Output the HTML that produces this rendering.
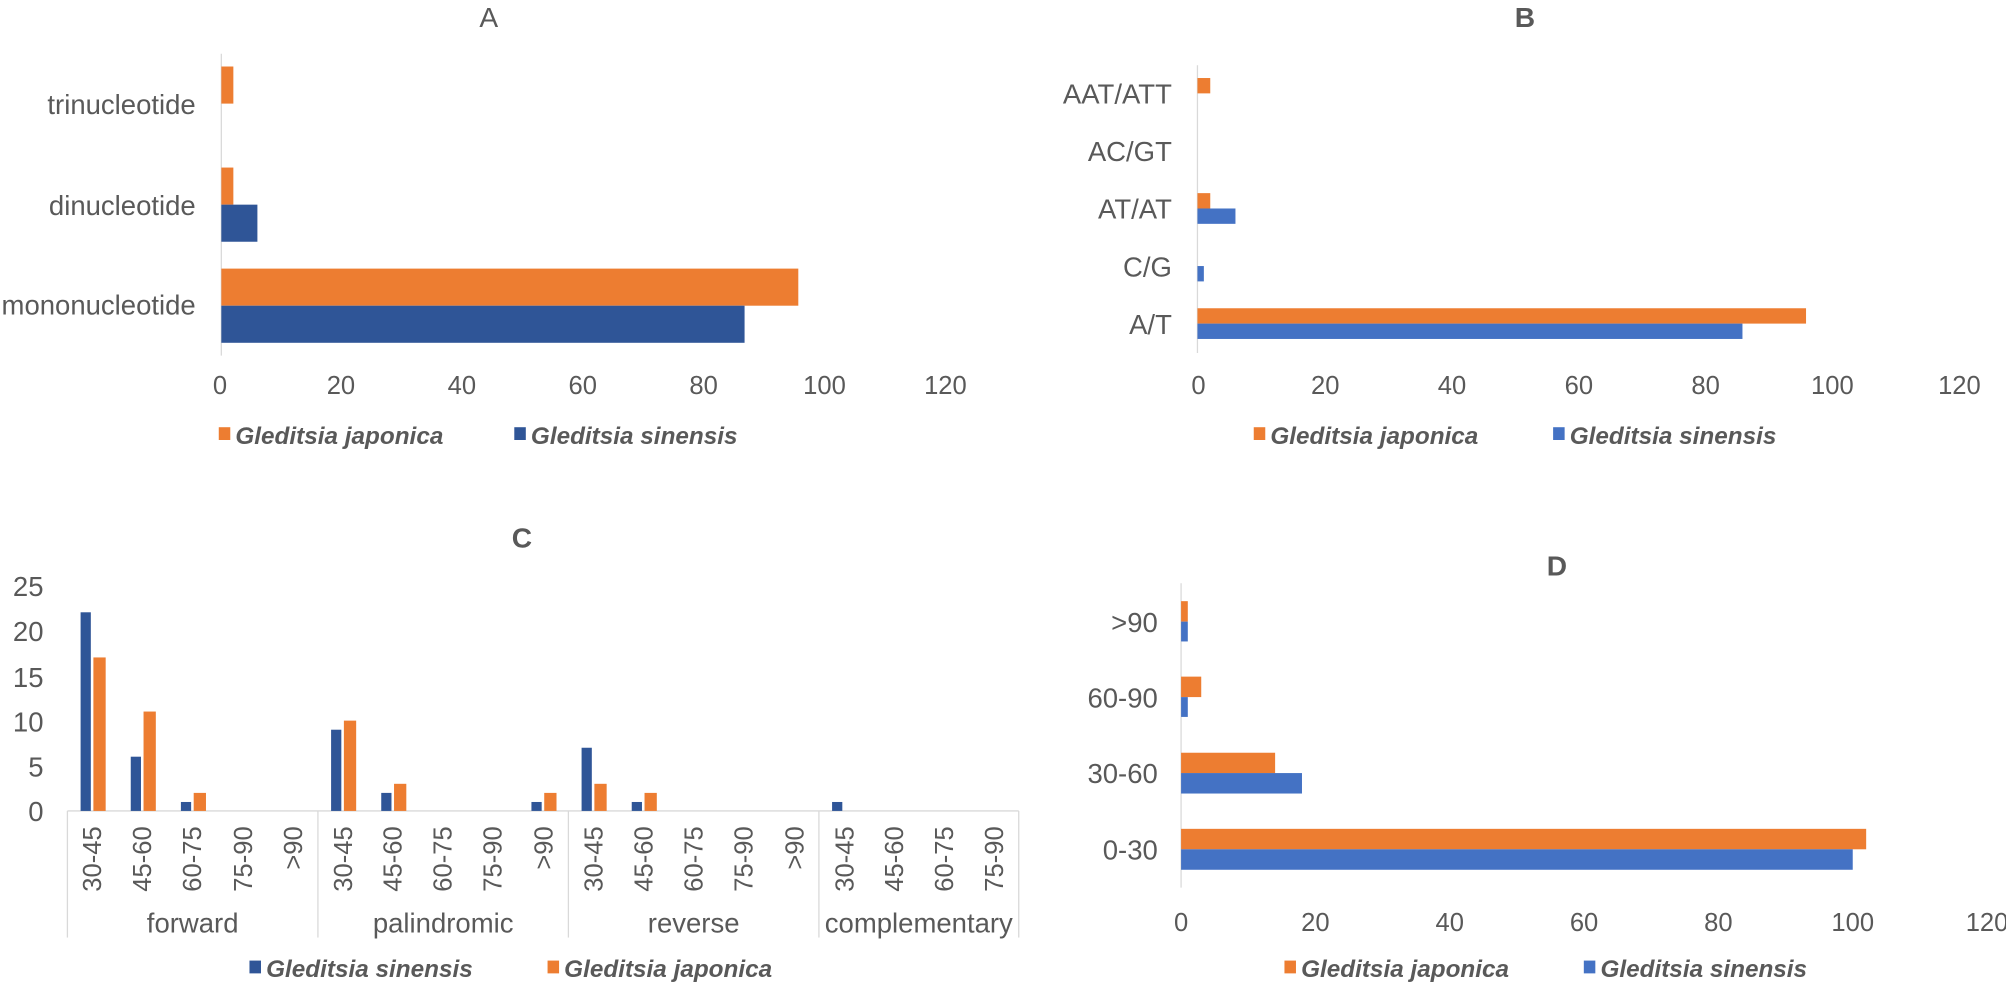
<!DOCTYPE html>
<html><head><meta charset="utf-8"><style>
html,body{margin:0;padding:0;background:#fff;}
svg{display:block}
text{font-family:"Liberation Sans Narrow","Liberation Sans",sans-serif;fill:#595959;}
.t{font-size:20px}
.c{font-size:21.5px}
.lg{font-size:19px;font-weight:bold;font-style:italic;fill:#595959}
.ti{font-size:22px}
</style></head><body>
<svg width="2006" height="990" viewBox="0 0 1568 774" preserveAspectRatio="none" xmlns="http://www.w3.org/2000/svg">
<rect width="1568" height="774" fill="#fff"/>
<!-- A -->
<text class="ti" x="382" y="21" text-anchor="middle">A</text>
<line x1="173" y1="42" x2="173" y2="278" stroke="#d9d9d9" stroke-width="1"/>
<rect x="173" y="52" width="9.4" height="29" fill="#ED7D31"/>
<rect x="173" y="131" width="9.4" height="29" fill="#ED7D31"/>
<rect x="173" y="160" width="28.2" height="29" fill="#2F5597"/>
<rect x="173" y="210" width="451" height="29" fill="#ED7D31"/>
<rect x="173" y="239" width="409" height="29" fill="#2F5597"/>
<g class="c" text-anchor="end">
<text x="153" y="89">trinucleotide</text>
<text x="153" y="168">dinucleotide</text>
<text x="153" y="246">mononucleotide</text>
</g>
<g class="t" text-anchor="middle">
<text x="172" y="308">0</text><text x="266.5" y="308">20</text><text x="361" y="308">40</text><text x="455.5" y="308">60</text><text x="550" y="308">80</text><text x="644.5" y="308">100</text><text x="739" y="308">120</text>
</g>
<rect x="171" y="334" width="9" height="10" fill="#ED7D31"/><text class="lg" x="184" y="347">Gleditsia japonica</text>
<rect x="402" y="334" width="9" height="10" fill="#2F5597"/><text class="lg" x="415" y="347">Gleditsia sinensis</text>

<!-- B -->
<text class="ti" x="1192" y="21" text-anchor="middle" font-weight="bold">B</text>
<line x1="936" y1="51" x2="936" y2="276" stroke="#d9d9d9"/>
<rect x="936" y="61" width="10" height="12" fill="#ED7D31"/>
<rect x="936" y="151" width="10" height="12" fill="#ED7D31"/>
<rect x="936" y="163" width="29.7" height="12" fill="#4472C4"/>
<rect x="936" y="208" width="5" height="12" fill="#4472C4"/>
<rect x="936" y="241" width="475.7" height="12" fill="#ED7D31"/>
<rect x="936" y="253" width="426" height="12" fill="#4472C4"/>
<g class="c" text-anchor="end">
<text x="916" y="81">AAT/ATT</text><text x="916" y="126">AC/GT</text><text x="916" y="171">AT/AT</text><text x="916" y="216">C/G</text><text x="916" y="261">A/T</text>
</g>
<g class="t" text-anchor="middle">
<text x="936.8" y="308">0</text><text x="1035.9" y="308">20</text><text x="1135" y="308">40</text><text x="1234.1" y="308">60</text><text x="1333.2" y="308">80</text><text x="1432.3" y="308">100</text><text x="1531.6" y="308">120</text>
</g>
<rect x="980" y="334" width="9" height="10" fill="#ED7D31"/><text class="lg" x="993" y="347">Gleditsia japonica</text>
<rect x="1214" y="334" width="9" height="10" fill="#4472C4"/><text class="lg" x="1227" y="347">Gleditsia sinensis</text>

<!-- C -->
<text class="ti" x="408" y="428" text-anchor="middle" font-weight="bold">C</text>
<g class="c" text-anchor="end">
<text x="34" y="466">25</text><text x="34" y="501">20</text><text x="34" y="537">15</text><text x="34" y="572">10</text><text x="34" y="607">5</text><text x="34" y="642">0</text>
</g>
<g stroke="#d9d9d9">
<line x1="52.7" y1="634" x2="796.3" y2="634"/>
<line x1="52.7" y1="634" x2="52.7" y2="733"/>
<line x1="248.5" y1="634" x2="248.5" y2="733"/>
<line x1="444.3" y1="634" x2="444.3" y2="733"/>
<line x1="640.1" y1="634" x2="640.1" y2="733"/>
<line x1="796.3" y1="634" x2="796.3" y2="733"/>
</g>
<g fill="#2F5597">
<rect x="63" y="478.7" width="8" height="155.3"/>
<rect x="102.2" y="591.6" width="8" height="42.4"/>
<rect x="141.4" y="627" width="8" height="7"/>
<rect x="258.8" y="570.5" width="8" height="63.5"/>
<rect x="298" y="619.9" width="8" height="14.1"/>
<rect x="415.4" y="627" width="8" height="7"/>
<rect x="454.6" y="584.6" width="8" height="49.4"/>
<rect x="493.8" y="627" width="8" height="7"/>
<rect x="650.4" y="627" width="8" height="7"/>
</g>
<g fill="#ED7D31">
<rect x="73" y="514" width="9.6" height="120"/>
<rect x="112.2" y="556.3" width="9.6" height="77.7"/>
<rect x="151.4" y="619.9" width="9.6" height="14.1"/>
<rect x="268.8" y="563.4" width="9.6" height="70.6"/>
<rect x="308" y="612.8" width="9.6" height="21.2"/>
<rect x="425.4" y="619.9" width="9.6" height="14.1"/>
<rect x="464.6" y="612.8" width="9.6" height="21.2"/>
<rect x="503.8" y="619.9" width="9.6" height="14.1"/>
</g>
<g class="t" text-anchor="end">
<text transform="translate(79,646) rotate(-90)">30-45</text>
<text transform="translate(118,646) rotate(-90)">45-60</text>
<text transform="translate(157,646) rotate(-90)">60-75</text>
<text transform="translate(197,646) rotate(-90)">75-90</text>
<text transform="translate(236,646) rotate(-90)">&gt;90</text>
<text transform="translate(275,646) rotate(-90)">30-45</text>
<text transform="translate(314,646) rotate(-90)">45-60</text>
<text transform="translate(353,646) rotate(-90)">60-75</text>
<text transform="translate(392,646) rotate(-90)">75-90</text>
<text transform="translate(432,646) rotate(-90)">&gt;90</text>
<text transform="translate(471,646) rotate(-90)">30-45</text>
<text transform="translate(510,646) rotate(-90)">45-60</text>
<text transform="translate(549,646) rotate(-90)">60-75</text>
<text transform="translate(588,646) rotate(-90)">75-90</text>
<text transform="translate(628,646) rotate(-90)">&gt;90</text>
<text transform="translate(667,646) rotate(-90)">30-45</text>
<text transform="translate(706,646) rotate(-90)">45-60</text>
<text transform="translate(745,646) rotate(-90)">60-75</text>
<text transform="translate(784,646) rotate(-90)">75-90</text>
</g>
<g class="c" text-anchor="middle">
<text x="150.6" y="729">forward</text><text x="346.4" y="729">palindromic</text><text x="542.2" y="729">reverse</text><text x="718.2" y="729">complementary</text>
</g>
<rect x="195" y="751" width="9" height="10" fill="#2F5597"/><text class="lg" x="208" y="764">Gleditsia sinensis</text>
<rect x="428" y="751" width="9" height="10" fill="#ED7D31"/><text class="lg" x="441" y="764">Gleditsia japonica</text>

<!-- D -->
<text class="ti" x="1217" y="450" text-anchor="middle" font-weight="bold">D</text>
<line x1="923.2" y1="456" x2="923.2" y2="694" stroke="#d9d9d9"/>
<g fill="#ED7D31">
<rect x="923.2" y="470" width="5.25" height="16"/>
<rect x="923.2" y="529" width="15.75" height="16"/>
<rect x="923.2" y="588.5" width="73.5" height="16"/>
<rect x="923.2" y="648" width="535.5" height="16"/>
</g>
<g fill="#4472C4">
<rect x="923.2" y="486" width="5.25" height="15.5"/>
<rect x="923.2" y="545" width="5.25" height="15.5"/>
<rect x="923.2" y="604.4" width="94.5" height="16"/>
<rect x="923.2" y="664" width="525" height="16"/>
</g>
<g class="c" text-anchor="end">
<text x="905" y="494">&gt;90</text><text x="905" y="553">60-90</text><text x="905" y="612">30-60</text><text x="905" y="672">0-30</text>
</g>
<g class="t" text-anchor="middle">
<text x="923.2" y="728">0</text><text x="1028.2" y="728">20</text><text x="1133.2" y="728">40</text><text x="1238.2" y="728">60</text><text x="1343.2" y="728">80</text><text x="1448.2" y="728">100</text><text x="1553.2" y="728">120</text>
</g>
<rect x="1004" y="751" width="9" height="10" fill="#ED7D31"/><text class="lg" x="1017" y="764">Gleditsia japonica</text>
<rect x="1238" y="751" width="9" height="10" fill="#4472C4"/><text class="lg" x="1251" y="764">Gleditsia sinensis</text>
</svg>
</body></html>
